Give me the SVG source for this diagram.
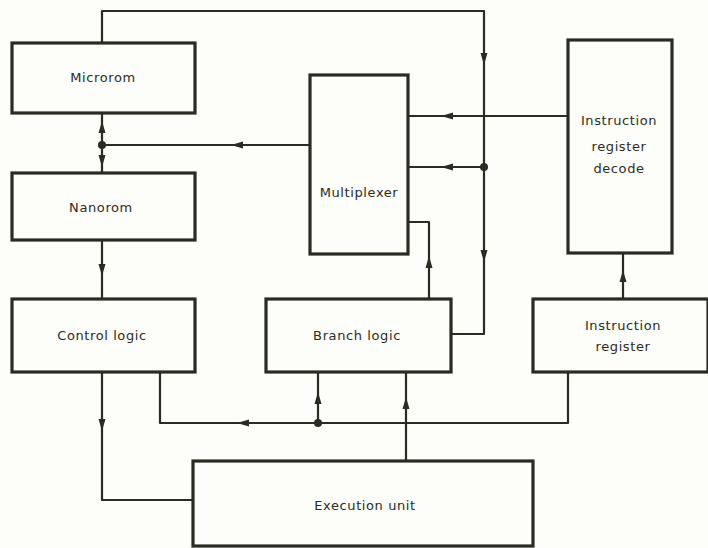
<svg xmlns="http://www.w3.org/2000/svg" width="708" height="548" viewBox="0 0 708 548">
<defs>
<style>
.box{fill:none;stroke:#2b2b24;stroke-width:3.2}
.ln{fill:none;stroke:#2b2b24;stroke-width:2.2;stroke-linejoin:round}
.ah{fill:#2b2b24}
text{font-family:"DejaVu Sans","Liberation Sans",sans-serif;font-size:13px;fill:#2b2b24;text-anchor:middle;dominant-baseline:central;letter-spacing:0.6px}
</style>
</defs>
<rect width="708" height="548" fill="#fdfdf9"/>
<g id="connectors">
<path class="ln" d="M102 43V11H484V334H451"/>
<path class="ah" d="M480.5 53L487.5 53L484 65Z"/>
<path class="ah" d="M480.5 250L487.5 250L484 262Z"/>
<path class="ln" d="M102 113V173"/>
<path class="ln" d="M310 145H102"/>
<circle class="ah" cx="102" cy="145" r="4"/>
<path class="ah" d="M98.5 133L105.5 133L102 121Z"/>
<path class="ah" d="M98.5 155L105.5 155L102 167Z"/>
<path class="ah" d="M243 141.5L243 148.5L231 145Z"/>
<path class="ln" d="M568 116H408"/>
<path class="ah" d="M453 112.5L453 119.5L441 116Z"/>
<path class="ln" d="M484 167H408"/>
<circle class="ah" cx="484" cy="167" r="4"/>
<path class="ah" d="M453 163.5L453 170.5L441 167Z"/>
<path class="ln" d="M408 222H429V299"/>
<path class="ah" d="M425.5 268L432.5 268L429 256Z"/>
<path class="ln" d="M102 240V299"/>
<path class="ah" d="M98.5 264L105.5 264L102 276Z"/>
<path class="ln" d="M623 299V253"/>
<path class="ah" d="M619.5 282L626.5 282L623 270Z"/>
<path class="ln" d="M568 372V423H160V372"/>
<path class="ah" d="M249 419.5L249 426.5L237 423Z"/>
<path class="ln" d="M318 423V372"/>
<circle class="ah" cx="318" cy="423" r="4"/>
<path class="ah" d="M314.5 404L321.5 404L318 392Z"/>
<path class="ln" d="M406 461V372"/>
<path class="ah" d="M402.5 409L409.5 409L406 397Z"/>
<path class="ln" d="M102 372V500H193"/>
<path class="ah" d="M98.5 419L105.5 419L102 431Z"/>
</g>
<g id="microrom"><rect class="box" x="12" y="43" width="183" height="70"/><text x="103" y="77">Microrom</text></g>
<g id="nanorom"><rect class="box" x="12" y="173" width="183" height="67"/><text x="101" y="207">Nanorom</text></g>
<g id="multiplexer"><rect class="box" x="310" y="75" width="98" height="179"/><text x="359" y="192">Multiplexer</text></g>
<g id="ird"><rect class="box" x="568" y="40" width="104" height="213"/><text x="619" y="120">Instruction</text><text x="619" y="146">register</text><text x="619" y="168">decode</text></g>
<g id="control"><rect class="box" x="12" y="299" width="183" height="73"/><text x="102" y="335">Control logic</text></g>
<g id="branch"><rect class="box" x="266" y="299" width="185" height="73"/><text x="357" y="335">Branch logic</text></g>
<g id="ir"><rect class="box" x="533" y="299" width="175" height="73"/><text x="623" y="325">Instruction</text><text x="623" y="346">register</text></g>
<g id="exec"><rect class="box" x="193" y="461" width="340" height="85"/><text x="365" y="505">Execution unit</text></g>
</svg>
